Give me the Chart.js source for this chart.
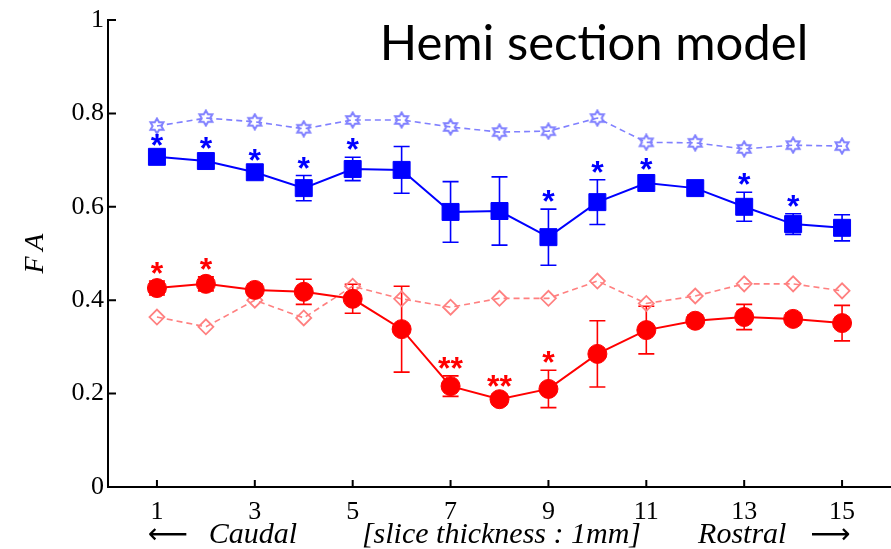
<!DOCTYPE html>
<html>
<head>
<meta charset="utf-8">
<script src="https://cdn.jsdelivr.net/npm/chart.js@4"></script>
<style>
  html,body{margin:0;padding:0;background:#fff;}
</style>
</head>
<body>
<canvas id="fa-chart" width="891" height="549"></canvas>
<script>
// slice numbers (caudal -> rostral)
const slices=[1,2,3,4,5,6,7,8,9,10,11,12,13,14,15];
const xTickValues=[1,3,5,7,9,11,13,15];
const yTickValues=[0,0.2,0.4,0.6,0.8,1];

// hemi section, blue group (mean + error)
const hemiBlue=[0.707,0.698,0.674,0.640,0.681,0.679,0.589,0.591,0.535,0.610,0.651,0.640,0.600,0.563,0.555];
const hemiBlueErr=[0.008,0.011,0.009,0.027,0.025,0.050,0.065,0.073,0.060,0.048,0.013,0.010,0.031,0.022,0.028];
const ctrlBlue=[0.773,0.790,0.782,0.767,0.786,0.786,0.771,0.760,0.762,0.790,0.738,0.737,0.724,0.732,0.730];
const blueSig=['*','*','*','*','*','','','','*','*','*','','*','*',''];

// hemi section, red group
const hemiRed=[0.426,0.435,0.422,0.418,0.403,0.338,0.216,0.188,0.210,0.285,0.336,0.356,0.364,0.360,0.351];
const hemiRedErr=[0.015,0.015,0.012,0.027,0.031,0.092,0.022,0.011,0.040,0.071,0.051,0.012,0.027,0.012,0.038];
const ctrlRed=[0.364,0.343,0.400,0.362,0.430,0.403,0.385,0.404,0.404,0.441,0.393,0.409,0.435,0.435,0.420];
const redSig=['*','*','','','','','**','**','*','','','','','',''];

const BLUE='#0000ff', RED='#ff0000', LBLUE='#8080ff', LRED='#ff8080';

const pts=vals=>vals.map((v,i)=>({x:slices[i],y:v}));

// hollow hexagram marker (like matlab 'h')
function hexagram(color){
  let c=document.createElement('canvas'); c.width=18; c.height=18;
  let g=c.getContext('2d');
  let R=7.5, r=R/Math.sqrt(3);
  g.beginPath();
  for(let k=0;k<12;k++){
    let a=-Math.PI/2+k*Math.PI/6, rr=k%2?r:R;
    let px=9+rr*Math.cos(a), py=9+rr*Math.sin(a);
    k?g.lineTo(px,py):g.moveTo(px,py);
  }
  g.closePath(); g.strokeStyle=color; g.lineWidth=2; g.stroke();
  return c;
}

// error bars + significance stars
const errorBars={
  id:'errorBars',
  beforeDatasetsDraw(chart){
    let {ctx,scales:{x,y}}=chart;
    [[hemiBlue,hemiBlueErr,BLUE],[hemiRed,hemiRedErr,RED]].forEach(([m,e,col])=>{
      ctx.save(); ctx.strokeStyle=col; ctx.lineWidth=1.6;
      m.forEach((v,i)=>{
        let px=x.getPixelForValue(slices[i]);
        let top=y.getPixelForValue(v+e[i]), bot=y.getPixelForValue(v-e[i]);
        ctx.beginPath();
        ctx.moveTo(px,top); ctx.lineTo(px,bot);
        ctx.moveTo(px-8,top); ctx.lineTo(px+8,top);
        ctx.moveTo(px-8,bot); ctx.lineTo(px+8,bot);
        ctx.stroke();
      });
      ctx.restore();
    });
  },
  afterDatasetsDraw(chart){
    let {ctx,scales:{x,y}}=chart;
    ctx.save();
    ctx.font='bold 32px "Liberation Sans"'; ctx.textAlign='center'; ctx.textBaseline='alphabetic';
    [[hemiBlue,hemiBlueErr,blueSig,BLUE],[hemiRed,hemiRedErr,redSig,RED]].forEach(([m,e,sig,col])=>{
      ctx.fillStyle=col;
      sig.forEach((s,i)=>{
        if(!s) return;
        let cy=y.getPixelForValue(m[i]+e[i])-15;
        ctx.fillText(s,x.getPixelForValue(slices[i]),cy+18);
      });
    });
    ctx.restore();
  }
};

// inward tick marks, title and axis labels
const decorations={
  id:'decorations',
  afterDraw(chart){
    let {ctx,chartArea:a,scales:{x,y}}=chart;
    ctx.save();
    ctx.strokeStyle='#000'; ctx.lineWidth=2;
    ctx.beginPath();
    yTickValues.forEach(v=>{let py=y.getPixelForValue(v); ctx.moveTo(a.left,py); ctx.lineTo(a.left+8,py);});
    xTickValues.forEach(v=>{let px=x.getPixelForValue(v); ctx.moveTo(px,a.bottom); ctx.lineTo(px,a.bottom-7);});
    ctx.stroke();

    ctx.fillStyle='#000';
    ctx.font='49px Lato'; ctx.textAlign='center'; ctx.textBaseline='alphabetic';
    ctx.fillText('Hemi section model',594,60);

    // y label
    ctx.save();
    ctx.translate(36,(a.top+a.bottom)/2);
    ctx.rotate(-Math.PI/2);
    ctx.font='italic 28px "Liberation Serif"'; ctx.textBaseline='middle';
    ctx.fillText('F\u2009A',0,0);
    ctx.restore();

    // x label line
    ctx.font='italic 30px "Liberation Serif"';
    ctx.fillText('Caudal',x.getPixelForValue(2.96),543);
    ctx.fillText('[slice thickness : 1mm]',x.getPixelForValue(8.04),543);
    ctx.fillText('Rostral',x.getPixelForValue(12.96),543);
    ctx.font='28px "DejaVu Sans"';
    ctx.fillText('\u27F5',x.getPixelForValue(1.23),543);
    ctx.fillText('\u27F6',x.getPixelForValue(14.76),543);
    ctx.restore();
  }
};

new Chart(document.getElementById('fa-chart'),{
  type:'line',
  data:{
    datasets:[
      {data:pts(hemiBlue),borderColor:BLUE,backgroundColor:BLUE,borderWidth:2,pointStyle:'rect',pointRadius:12,pointBorderWidth:1},
      {data:pts(hemiRed),borderColor:RED,backgroundColor:RED,borderWidth:2,pointStyle:'circle',pointRadius:9.5,pointBorderWidth:1},
      {data:pts(ctrlBlue),borderColor:LBLUE,borderWidth:1.6,borderDash:[6,4],pointStyle:hexagram(LBLUE)},
      {data:pts(ctrlRed),borderColor:LRED,backgroundColor:'rgba(0,0,0,0)',borderWidth:1.6,borderDash:[6,4],pointStyle:'rectRot',pointRadius:7.5,pointBorderWidth:1.8}
    ]
  },
  options:{
    responsive:false,
    animation:false,
    events:[],
    layout:{autoPadding:false,padding:{top:20,right:0,left:0,bottom:0}},
    plugins:{legend:{display:false},tooltip:{enabled:false}},
    elements:{line:{tension:0}},
    scales:{
      x:{
        type:'linear',min:0,max:16,
        afterBuildTicks:s=>{s.ticks=xTickValues.map(v=>({value:v}));},
        afterFit:s=>{s.height=62; s.paddingLeft=0; s.paddingRight=0;},
        grid:{drawOnChartArea:false,drawTicks:false},
        border:{color:'#000',width:2},
        ticks:{color:'#000',padding:10,font:{family:'Liberation Serif',size:26},callback:v=>String(v),maxRotation:0,autoSkip:false}
      },
      y:{
        min:0,max:1,
        afterBuildTicks:s=>{s.ticks=yTickValues.map(v=>({value:v}));},
        afterFit:s=>{s.width=108;},
        grid:{drawOnChartArea:false,drawTicks:false},
        border:{color:'#000',width:2},
        ticks:{color:'#000',padding:4,font:{family:'Liberation Serif',size:26},callback:v=>String(v)}
      }
    }
  },
  plugins:[errorBars,decorations]
});
</script>
</body>
</html>
